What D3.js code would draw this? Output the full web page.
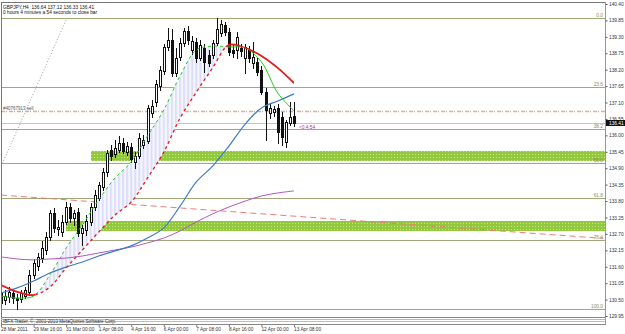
<!DOCTYPE html>
<html>
<head>
<meta charset="utf-8">
<script src="https://cdn.jsdelivr.net/npm/d3@7"></script>
<style>
body { margin: 0; background: #fff; }
svg { display: block; font-family: "Liberation Sans", Arial, sans-serif; }
</style>
</head>
<body>
<div id="chart"></div>
<script>
// GBPJPY H4 bars, 28 Mar 08:00 .. 13 Apr 08:00
var open = [130.72,130.49,130.59,130.72,130.55,130.52,130.62,130.76,131.32,131.63,
  131.89,132.16,132.60,133.40,132.86,132.76,133.10,133.60,133.23,133.43,
  132.73,132.83,133.10,133.60,133.90,134.27,134.77,135.51,135.38,135.51,
  135.74,135.44,135.61,135.11,135.31,135.68,135.81,136.75,137.12,137.65,
  138.16,138.96,139.19,138.09,138.63,139.09,139.50,138.86,139.13,138.59,
  138.93,138.69,138.69,139.09,139.43,139.70,139.46,138.86,138.86,138.93,
  138.59,138.86,138.42,138.46,138.19,137.45,136.75,136.78,136.92,136.62,
  135.78,136.41,136.64];
var high = [130.89,130.82,130.92,130.86,130.69,130.82,130.92,131.49,131.86,132.06,
  132.46,132.76,133.50,133.57,133.17,133.33,133.77,133.73,133.50,133.57,
  133.00,133.33,133.73,134.17,134.44,134.91,135.51,135.68,135.85,135.98,
  135.91,135.78,135.74,135.44,136.08,136.01,137.02,137.19,137.86,138.32,
  139.06,139.60,139.56,138.93,139.26,139.60,139.66,139.33,139.26,139.19,
  139.06,138.86,139.19,139.93,139.88,139.80,139.60,139.03,139.46,139.06,
  139.06,138.99,139.13,138.59,138.32,137.59,137.05,136.98,137.05,136.78,
  136.52,137.12,137.12];
var low = [130.29,130.35,130.42,130.39,130.19,130.42,130.55,130.69,131.22,131.49,
  131.76,132.03,132.50,132.76,132.66,132.63,133.03,133.10,133.00,132.63,
  132.33,132.66,133.00,133.50,133.84,134.17,134.64,135.18,135.28,135.44,
  135.41,135.34,135.11,134.91,135.24,135.57,135.74,136.62,136.98,137.52,
  138.06,138.86,137.99,137.99,138.52,138.99,139.06,138.73,138.46,138.52,
  138.12,138.32,138.59,139.03,139.33,139.36,138.69,138.63,138.59,138.66,
  138.09,138.46,138.26,138.02,137.39,135.85,136.58,136.65,135.74,135.68,
  135.61,136.35,136.33];
var close = [130.39,130.62,130.76,130.55,130.49,130.72,130.82,131.32,131.73,131.93,
  132.23,132.60,133.40,132.90,132.93,133.10,133.60,133.23,133.40,132.73,
  132.90,133.13,133.60,134.00,134.34,134.77,135.41,135.31,135.57,135.74,
  135.48,135.64,135.21,135.31,135.91,135.85,136.92,136.98,137.72,138.19,
  138.96,139.19,138.09,138.59,139.09,139.50,139.19,139.16,138.59,139.03,
  138.46,138.42,139.09,139.56,139.73,139.46,138.79,138.76,139.30,138.83,
  138.96,138.59,138.63,138.12,137.45,136.85,136.92,136.88,136.11,135.95,
  136.45,136.62,136.41];

// indicator readings, every 4th bar
var maIdx = [0,4,8,12,16,20,24,28,32,36,40,44,48,52,56,60,64,68,72];
var redLine = [130.99,130.76,130.65,130.92,131.56,132.16,132.76,133.33,133.77,134.57,
  135.44,136.58,137.45,138.26,139.03,138.93,138.66,138.26,137.75];
var greenLine = [130.62,130.55,130.62,131.32,132.23,133.00,133.84,134.57,135.11,135.98,
  136.85,137.99,138.86,138.99,138.96,138.93,138.46,137.42,136.82];
var blueLine = [130.72,130.89,131.12,131.39,131.59,131.76,131.96,132.13,132.30,132.56,
  132.90,133.63,134.44,134.97,135.64,136.38,136.92,137.15,137.39];
var purpleLine = [131.93,131.86,131.83,131.86,131.89,131.96,132.06,132.16,132.26,132.40,
  132.56,132.80,133.10,133.37,133.60,133.80,133.97,134.07,134.14];

var priceTicks = [140.40,139.85,139.30,138.75,138.20,137.65,137.10,136.55,136.00,135.45,
  134.90,134.35,133.80,133.25,132.70,132.15,131.60,131.05,130.50,129.95];
var timeBars = [0,8,16,24,32,40,48,56,64,72];
var timeLabels = ['28 Mar 2011','29 Mar 16:00','31 Mar 00:00','1 Apr 08:00','4 Apr 16:00',
  '6 Apr 00:00','7 Apr 08:00','8 Apr 16:00','12 Apr 00:00','13 Apr 08:00'];

var fibLevels = [0.0, 23.6, 38.2, 50.0, 61.8, 76.4, 100.0];
var fibBars = [-15.5, 16.2];
var fibPrices = [130.19, 139.93];

var zoneStart = [22, 16];
var zoneTop = [135.48, 133.13];
var zoneBottom = [135.14, 132.80];

var trendBars = [0, 148];
var trendPrices = [134.00, 132.55];

var orderPrice = 136.82;
var bidPrice = 136.41;

var W = 625, H = 334;
var L = 1, R = 605, T = 2, B = 318;

var svg = d3.select('#chart').append('svg').attr('width', W).attr('height', H);
var x = d3.scaleLinear().domain([0, 72]).range([1, 294]);
var y = d3.scaleLinear().domain([129.95, 140.40]).range([316, 4]);
var fmt = d3.format('.2f');

var defs = svg.append('defs');
defs.append('clipPath').attr('id', 'plot').append('rect')
  .attr('x', L).attr('y', T).attr('width', R - L).attr('height', B - T);

var zp = defs.append('pattern').attr('id', 'zone').attr('patternUnits', 'userSpaceOnUse')
  .attr('width', 3).attr('height', 3);
zp.append('rect').attr('width', 3).attr('height', 3).attr('fill', '#92c83c');
zp.append('rect').attr('x', 1).attr('y', 1).attr('width', 1).attr('height', 1).attr('fill', '#c6e890');

var step = x(1) - x(0);
var hp = defs.append('pattern').attr('id', 'hatch').attr('patternUnits', 'userSpaceOnUse')
  .attr('x', x(0) - 1).attr('width', step).attr('height', 4);
hp.append('rect').attr('width', step).attr('height', 4).attr('fill', '#f6f6fe');
hp.append('rect').attr('width', 2).attr('height', 4).attr('fill', '#dcdef8');

var curve = d3.curveCatmullRom;
function region(vals, above) {
  return d3.area().curve(curve)
    .x(function(d, i) { return x(maIdx[i]); })
    .y0(function(d) { return y(d); })
    .y1(above ? 0 : H)(vals);
}
defs.append('clipPath').attr('id', 'aboveRed').append('path').attr('d', region(redLine, true));
defs.append('clipPath').attr('id', 'belowRed').append('path').attr('d', region(redLine, false));
defs.append('clipPath').attr('id', 'aboveGreen').append('path').attr('d', region(greenLine, true));
defs.append('clipPath').attr('id', 'belowGreen').append('path').attr('d', region(greenLine, false));

var g = svg.append('g').attr('clip-path', 'url(#plot)');

// zones
g.selectAll('.zone').data(zoneStart).enter().append('rect')
  .attr('x', function(d) { return Math.round(x(d)); })
  .attr('y', function(d, i) { return Math.round(y(zoneTop[i])); })
  .attr('width', function(d) { return R - Math.round(x(d)); })
  .attr('height', function(d, i) { return Math.round(y(zoneBottom[i])) - Math.round(y(zoneTop[i])); })
  .attr('fill', 'url(#zone)');

// fibo
var fibY = fibLevels.map(function(l) { return y(fibPrices[1] - (fibPrices[1] - fibPrices[0]) * l / 100); });
g.selectAll('.fib').data(fibY).enter().append('line')
  .attr('x1', L).attr('x2', R)
  .attr('y1', function(d) { return Math.round(d) + 0.5; })
  .attr('y2', function(d) { return Math.round(d) + 0.5; })
  .attr('stroke', '#a3a67a').attr('stroke-width', 1);
g.selectAll('.fibt').data(fibY).enter().append('text')
  .attr('x', R - 2).attr('y', function(d) { return Math.round(d) - 1; })
  .attr('text-anchor', 'end').attr('font-size', 4.8).attr('fill', '#8c8c5c')
  .text(function(d, i) { return fibLevels[i].toFixed(1); });
g.append('line')
  .attr('x1', x(fibBars[0])).attr('y1', y(fibPrices[0]))
  .attr('x2', x(fibBars[1])).attr('y2', y(fibPrices[1]))
  .attr('stroke', '#999').attr('stroke-dasharray', '1,2');

// trend line
g.append('line')
  .attr('x1', x(trendBars[0])).attr('y1', y(trendPrices[0]))
  .attr('x2', x(trendBars[1])).attr('y2', y(trendPrices[1]))
  .attr('stroke', '#ee7a7a').attr('stroke-dasharray', '6,4');

// bid + order lines
var bidY = Math.round(y(bidPrice)) + 0.5;
g.append('line').attr('x1', L).attr('x2', R).attr('y1', bidY).attr('y2', bidY)
  .attr('stroke', '#c4c4c4');
var oy = Math.round(y(orderPrice)) + 0.5;
g.append('line').attr('x1', L).attr('x2', R).attr('y1', oy).attr('y2', oy)
  .attr('stroke', '#f2a0a0').attr('stroke-width', 1.5).attr('stroke-dasharray', '4,4');
g.append('line').attr('x1', L + 5).attr('x2', R).attr('y1', oy).attr('y2', oy)
  .attr('stroke', '#8cc88c').attr('stroke-width', 1.5).attr('stroke-dasharray', '1,7');
g.append('text').attr('x', 3).attr('y', oy - 1.5).attr('font-size', 4.5).attr('fill', '#555')
  .text('#40767913 sell');

// hatched fill between green and red
g.append('g').attr('clip-path', 'url(#aboveRed)')
  .append('path').attr('d', region(greenLine, false)).attr('fill', 'url(#hatch)');

// candles
var cg = g.append('g').attr('shape-rendering', 'crispEdges');
open.forEach(function(o, i) {
  var cx = Math.round(x(i));
  var c = close[i];
  cg.append('line').attr('x1', cx + 0.5).attr('x2', cx + 0.5)
    .attr('y1', Math.round(y(high[i]))).attr('y2', Math.round(y(low[i])) + 1)
    .attr('stroke', '#111');
  var top = Math.round(y(Math.max(o, c))), bot = Math.round(y(Math.min(o, c)));
  cg.append('rect').attr('x', cx - 0.5).attr('y', top + 0.5)
    .attr('width', 2).attr('height', Math.max(bot - top, 1))
    .attr('fill', c >= o ? '#fff' : '#111').attr('stroke', '#111');
});

// indicator lines
var line = d3.line().curve(curve)
  .x(function(d, i) { return x(maIdx[i]); })
  .y(function(d) { return y(d); });
g.append('path').attr('d', line(purpleLine)).attr('fill', 'none').attr('stroke', '#b455c4').attr('stroke-width', 1);
g.append('path').attr('d', line(blueLine)).attr('fill', 'none').attr('stroke', '#3c7cc4').attr('stroke-width', 1.2);
g.append('g').attr('clip-path', 'url(#belowRed)').append('path').attr('d', line(greenLine))
  .attr('fill', 'none').attr('stroke', '#22c822').attr('stroke-width', 1);
g.append('g').attr('clip-path', 'url(#aboveRed)').append('path').attr('d', line(greenLine))
  .attr('fill', 'none').attr('stroke', '#22c822').attr('stroke-width', 1).attr('stroke-dasharray', '3,3');
g.append('g').attr('clip-path', 'url(#aboveGreen)').append('path').attr('d', line(redLine))
  .attr('fill', 'none').attr('stroke', '#e81818').attr('stroke-width', 1.8);
g.append('g').attr('clip-path', 'url(#belowGreen)').append('path').attr('d', line(redLine))
  .attr('fill', 'none').attr('stroke', '#e81818').attr('stroke-width', 1.3).attr('stroke-dasharray', '3,3');

// timer label
g.append('text').attr('x', 299).attr('y', 128.5).attr('font-size', 4.8).attr('fill', '#a040b0')
  .text('<0:4:54');

// header
svg.append('text').attr('x', 3).attr('y', 8.5).attr('font-size', 4.8).attr('fill', '#111')
  .attr('xml:space', 'preserve').text('GBPJPY,H4  136.64 137.12 136.33 136.41');
svg.append('text').attr('x', 3).attr('y', 13.5).attr('font-size', 4.8).attr('fill', '#111')
  .text('0 hours 4 minutes a 54 seconds to close bar');

// frame
svg.append('line').attr('x1', L + 0.5).attr('x2', L + 0.5).attr('y1', T).attr('y2', 325).attr('stroke', '#777');
svg.append('line').attr('x1', L).attr('x2', R).attr('y1', T + 0.5).attr('y2', T + 0.5).attr('stroke', '#777');
svg.append('line').attr('x1', R + 0.5).attr('x2', R + 0.5).attr('y1', T).attr('y2', 325).attr('stroke', '#999');
[B - 0.5, B + 1.5, B + 3.5, B + 6.5].forEach(function(ly, k) {
  svg.append('line').attr('x1', L).attr('x2', R).attr('y1', ly).attr('y2', ly)
    .attr('stroke', k === 0 || k === 3 ? '#888' : '#bbb');
});
svg.append('text').attr('x', 3).attr('y', B + 5).attr('font-size', 4.6).attr('fill', '#333')
  .text('IBFX Trader, \u00a9, 2001-2010 MetaQuotes Software Corp.');

// price axis
var ya = svg.append('g').attr('transform', 'translate(' + (R + 0.5) + ',0)')
  .call(d3.axisRight(y).tickValues(priceTicks).tickSize(2).tickSizeOuter(0).tickFormat(fmt));
ya.select('.domain').remove();
ya.selectAll('line').attr('stroke', '#555');
ya.selectAll('text').attr('font-size', 4.8).attr('fill', '#333').attr('x', 3.5);

// current price box
svg.append('rect').attr('x', R + 1).attr('y', Math.round(y(bidPrice)) - 3)
  .attr('width', W - R - 1).attr('height', 6).attr('fill', '#111');
svg.append('text').attr('x', R + 4).attr('y', Math.round(y(bidPrice)) + 1.7)
  .attr('font-size', 4.8).attr('fill', '#fff').text(fmt(bidPrice));

// time axis
var xa = svg.append('g').attr('transform', 'translate(0,' + (B + 7) + ')')
  .call(d3.axisBottom(x).tickValues(timeBars).tickSize(2).tickSizeOuter(0)
    .tickFormat(function(d, i) { return timeLabels[i]; }));
xa.select('.domain').remove();
xa.selectAll('line').attr('stroke', '#777');
xa.selectAll('text').attr('font-size', 4.8).attr('fill', '#333')
  .attr('text-anchor', 'start').attr('dx', -0.5).attr('y', 3);
</script>
</body>
</html>
